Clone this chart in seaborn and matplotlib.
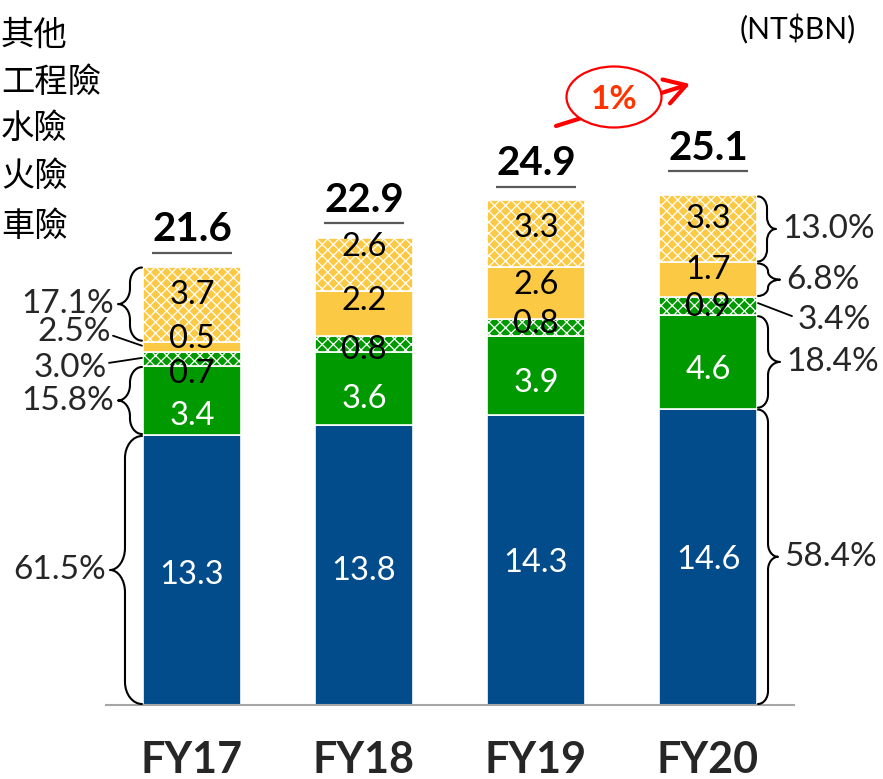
import pandas as pd
import seaborn as sns
import matplotlib.pyplot as plt
from matplotlib.path import Path
from matplotlib.patches import PathPatch, Ellipse, FancyArrowPatch
from matplotlib.transforms import offset_copy

# ---- data (NT$ billions) ----
years = ["FY17", "FY18", "FY19", "FY20"]
lines = ["車險", "火險", "水險", "工程險", "其他"]          # stacked bottom -> top
motor = [13.3, 13.8, 14.3, 14.6]
fire = [3.4, 3.6, 3.9, 4.6]
marine = [0.7, 0.8, 0.8, 0.9]
engineering = [0.5, 2.2, 2.6, 1.7]
other = [3.7, 2.6, 3.3, 3.3]
totals = ["21.6", "22.9", "24.9", "25.1"]
share_fy17 = ["61.5%", "15.8%", "3.0%", "2.5%", "17.1%"]
share_fy20 = ["58.4%", "18.4%", "3.4%", "6.8%", "13.0%"]
growth = "1%"
unit = "(NT$BN)"

series = [motor, fire, marine, engineering, other]
df = pd.DataFrame(
    [(y, name, v) for name, vals in zip(lines, series) for y, v in zip(years, vals)],
    columns=["year", "line", "value"],
)

# ---- styling ----
colors = ["#034C8C", "#009A00", "#009A00", "#FBC943", "#FBC943"]
hatches = [None, None, "xxx", None, "xxx"]
text_colors = ["white", "white", "black", "black", "black"]
# vertical nudges (px, + = down) for the segment value labels
nudge = [[2, 13, 12, -10, -12],
         [3, 8, 4, -15, -20],
         [0, 5, -6, -11, -8],
         [0, 5, -2, -12, -13]]
total_gap_px = [14, 15, 13, 24]

sns.set_theme(style="white")
plt.rcParams["font.family"] = ["Lato", "Noto Sans CJK TC", "DejaVu Sans"]
plt.rcParams["hatch.linewidth"] = 0.9
plt.rcParams["hatch.color"] = "white"

W, H = 883, 779
PX_PER_UNIT = 20.3
fig = plt.figure(figsize=(W / 100, H / 100), dpi=100)
ax = fig.add_axes([106 / W, 74 / H, 688 / W, 28 * PX_PER_UNIT / H])

bottoms = [0.0] * len(years)
seg_bounds = []
for k, (name, vals) in enumerate(zip(lines, series)):
    sub = df[df["line"] == name]
    sns.barplot(data=sub, x="year", y="value", order=years, ax=ax,
                bottom=list(bottoms), width=0.57, color=colors[k],
                saturation=1, errorbar=None, edgecolor="white",
                linewidth=1.2, hatch=hatches[k])
    for j, v in enumerate(vals):
        center = bottoms[j] + v / 2
        cap_px = 23.5 * 100 / 72 * 0.7165
        ax.annotate(f"{v:.1f}", xy=(j, center),
                    xytext=(0, -(nudge[j][k] + cap_px / 2) * 0.72),
                    textcoords="offset points", ha="center", va="baseline",
                    fontsize=23.5, color=text_colors[k], zorder=5)
    seg_bounds.append(list(bottoms))
    bottoms = [b + v for b, v in zip(bottoms, vals)]
seg_bounds.append(list(bottoms))

ax.set_xlim(-0.5, 3.5)
ax.set_ylim(0, 28)
ax.set_ylabel("")
ax.set_xlabel("")
ax.set_yticks([])
for s in ["left", "right", "top"]:
    ax.spines[s].set_visible(False)
ax.spines["bottom"].set_color("#A6A6A6")
ax.spines["bottom"].set_linewidth(1.5)
ax.set_xticks(range(len(years)))
ax.set_xticklabels(years, fontsize=31, fontweight="bold")
ax.tick_params(axis="x", which="major", length=0, pad=25)
ax.set_xticks([i - 0.5 for i in range(len(years) + 1)], minor=True)
ax.tick_params(axis="x", which="minor", direction="in", length=10.8,
               width=1.5, color="#A6A6A6")

# totals with underline
for j, t in enumerate(totals):
    top = bottoms[j]
    tr_line = offset_copy(ax.transData, fig, x=0, y=total_gap_px[j] * 0.72, units="points")
    ax.plot([j - 0.235, j + 0.235], [top, top], transform=tr_line,
            color="#595959", lw=1.6, clip_on=False, solid_capstyle="butt")
    cap_px = 29 * 100 / 72 * 0.7165
    ax.annotate(t, xy=(j, top),
                xytext=(0, (total_gap_px[j] + 26 - cap_px / 2) * 0.72),
                textcoords="offset points", ha="center", va="baseline",
                fontsize=29, fontweight="bold", color="black",
                annotation_clip=False)

# ---- overlay in pixel coordinates (y down) ----
ov = fig.add_axes([0, 0, 1, 1], zorder=3)
ov.set_xlim(0, W)
ov.set_ylim(H, 0)
ov.axis("off")
ov.patch.set_visible(False)


def to_px(x, y):
    dx, dy = ax.transData.transform((x, y))
    return dx, H - dy


def brace(x_end, y_top, y_bot, side, depth, tip, lw=1.5):
    """Curly brace from y_top to y_bot; ends at x_end, pointing to `side`."""
    xs = x_end + side * depth
    xt = xs + side * tip
    ym = (y_top + y_bot) / 2
    r = min(depth * 1.3, (y_bot - y_top) / 4)
    k = 0.55
    verts = [(x_end, y_top),
             (x_end + side * depth * k, y_top), (xs, y_top + r * (1 - k)), (xs, y_top + r),
             (xs, ym - r),
             (xs, ym - r * (1 - k)), (xt - side * tip * k, ym), (xt, ym),
             (xt - side * tip * k, ym), (xs, ym + r * (1 - k)), (xs, ym + r),
             (xs, y_bot - r),
             (xs, y_bot - r * (1 - k)), (x_end + side * depth * k, y_bot), (x_end, y_bot)]
    C, L, M = Path.CURVE4, Path.LINETO, Path.MOVETO
    codes = [M, C, C, C, L, C, C, C, C, C, C, L, C, C, C]
    ov.add_patch(PathPatch(Path(verts, codes), fill=False, lw=lw, ec="black",
                           capstyle="round", joinstyle="round"))
    return xt, ym


pct_fs = 24
half_w = 0.285

# left side: FY17 shares
x_left = to_px(0 - half_w, 0)[0] - 1
left_shape = {0: (17, 15), 1: (12, 12), 4: (12, 12)}
for k, (d, t) in left_shape.items():
    _, ya = to_px(0, seg_bounds[k + 1][0])
    _, yb = to_px(0, seg_bounds[k][0])
    xt, ym = brace(x_left, ya + 1, yb - 1, -1, d, t)
    ov.text(xt - 4, ym, share_fy17[k], ha="right", va="center", fontsize=pct_fs)
leader_left = {3: (111, -15, -11, -1), 2: (107, 9, 4, -1)}
for k, (tx, dy_txt, dy_start, dy_end) in leader_left.items():
    _, ya = to_px(0, seg_bounds[k + 1][0])
    _, yb = to_px(0, seg_bounds[k][0])
    yc = (ya + yb) / 2
    ov.plot([tx + 2, x_left], [yc + dy_start, yc + dy_end], color="black", lw=1.3)
    ov.text(tx, yc + dy_txt, share_fy17[k], ha="right", va="center", fontsize=pct_fs)

# right side: FY20 shares
x_right = to_px(3 + half_w, 0)[0] + 1
right_shape = {0: (10, 10), 1: (10, 12), 3: (10, 12), 4: (9, 9)}
for k, (d, t) in right_shape.items():
    _, ya = to_px(3, seg_bounds[k + 1][3])
    _, yb = to_px(3, seg_bounds[k][3])
    xt, ym = brace(x_right, ya + 1, yb - 1, 1, d, t)
    ov.text(xt + 6, ym, share_fy20[k], ha="left", va="center", fontsize=pct_fs)
_, ya = to_px(3, seg_bounds[3][3])
_, yb = to_px(3, seg_bounds[2][3])
yc = (ya + yb) / 2
ov.plot([x_right, 792], [yc - 3, yc + 10], color="black", lw=1.3)
ov.text(798, yc + 14, share_fy20[2], ha="left", va="center", fontsize=pct_fs)

# legend labels, top -> bottom
for name, y in zip(lines[::-1], [35, 82, 128, 176, 226]):
    ov.text(1, y, name, ha="left", va="center", fontsize=24,
            family=["Noto Sans CJK TC", "DejaVu Sans"], fontweight="light",
            color="black")

ov.text(856, 29, unit, ha="right", va="center", fontsize=21.5, color="black")

# growth badge
ov.add_patch(FancyArrowPatch((556, 126), (690, 84),
                             arrowstyle="->,head_length=15,head_width=9",
                             mutation_scale=1, lw=3, color="#FF0000",
                             shrinkA=0, shrinkB=0, zorder=2))
ov.add_patch(Ellipse((614, 97), 95, 61, facecolor="white", edgecolor="#FF0000",
                     lw=1.6, zorder=3))
ov.text(614, 99, growth, ha="center", va="center", fontsize=24,
        fontweight="bold", color="#FF3300", zorder=4)

fig.savefig("out.png", dpi=100)
